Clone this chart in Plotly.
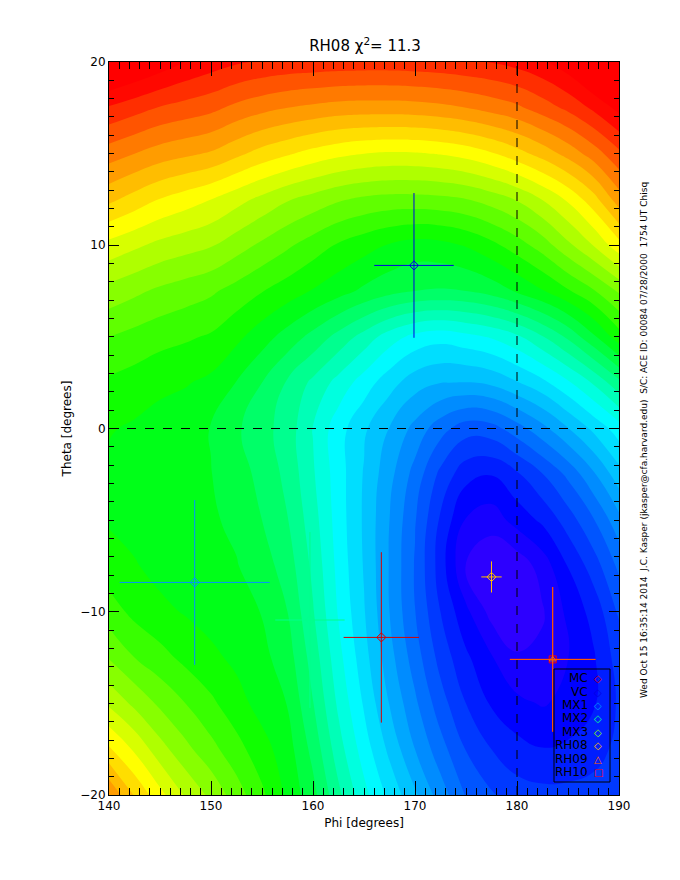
import plotly.graph_objects as go

# ---------------- chi-square surface: colour level (0 = minimum, 1 = red) read on a 2.5 deg grid ----------------
phi_grid = [140, 142.5, 145, 147.5, 150, 152.5, 155, 157.5, 160, 162.5, 165,
            167.5, 170, 172.5, 175, 177.5, 180, 182.5, 185, 187.5, 190]
theta_grid = [-20, -17.5, -15, -12.5, -10, -7.5, -5, -2.5, 0, 2.5, 5, 7.5, 10, 12.5, 15, 17.5, 20]

row_m20 = [0.873, 0.81, 0.76, 0.715, 0.68, 0.64, 0.60, 0.555, 0.51, 0.445, 0.385, 0.335, 0.287, 0.235, 0.185, 0.16, 0.14, 0.135, 0.135, 0.14, 0.15]
row_m17 = [0.786, 0.745, 0.70, 0.665, 0.635, 0.605, 0.575, 0.545, 0.49, 0.42, 0.36, 0.305, 0.25, 0.20, 0.155, 0.125, 0.105, 0.095, 0.10, 0.11, 0.135]
row_m15 = [0.713, 0.68, 0.65, 0.625, 0.60, 0.575, 0.55, 0.53, 0.47, 0.40, 0.34, 0.28, 0.225, 0.17, 0.125, 0.09, 0.07, 0.06, 0.07, 0.09, 0.13]
row_m12 = [0.654, 0.625, 0.605, 0.585, 0.57, 0.555, 0.54, 0.515, 0.455, 0.385, 0.325, 0.262, 0.203, 0.145, 0.10, 0.065, 0.035, 0.038, 0.062, 0.09, 0.14]
row_m10 = [0.609, 0.585, 0.57, 0.56, 0.55, 0.542, 0.53, 0.50, 0.44, 0.372, 0.315, 0.25, 0.188, 0.125, 0.07, 0.02, 0.005, 0.028, 0.07, 0.105, 0.16]
row_m7 = [0.577, 0.565, 0.553, 0.548, 0.54, 0.533, 0.515, 0.485, 0.43, 0.365, 0.31, 0.248, 0.185, 0.11, 0.03, 0.005, 0.01, 0.045, 0.095, 0.14, 0.195]
row_m5 = [0.559, 0.552, 0.545, 0.54, 0.535, 0.525, 0.50, 0.47, 0.42, 0.36, 0.308, 0.25, 0.19, 0.12, 0.06, 0.045, 0.075, 0.10, 0.14, 0.185, 0.24]
row_m2 = [0.555, 0.55, 0.545, 0.54, 0.532, 0.515, 0.49, 0.46, 0.41, 0.358, 0.31, 0.26, 0.207, 0.148, 0.105, 0.095, 0.12, 0.155, 0.195, 0.245, 0.30]
row_0 = [0.565, 0.558, 0.55, 0.542, 0.53, 0.505, 0.48, 0.455, 0.405, 0.357, 0.318, 0.28, 0.24, 0.20, 0.17, 0.175, 0.205, 0.24, 0.28, 0.32, 0.36]
row_2 = [0.588, 0.58, 0.57, 0.565, 0.555, 0.53, 0.50, 0.465, 0.43, 0.395, 0.36, 0.325, 0.295, 0.282, 0.28, 0.288, 0.31, 0.335, 0.37, 0.41, 0.46]
row_5 = [0.625, 0.615, 0.605, 0.598, 0.59, 0.57, 0.545, 0.518, 0.49, 0.458, 0.425, 0.39, 0.365, 0.355, 0.365, 0.378, 0.40, 0.435, 0.475, 0.525, 0.58]
row_7 = [0.676, 0.663, 0.65, 0.64, 0.63, 0.613, 0.595, 0.578, 0.56, 0.543, 0.525, 0.51, 0.50, 0.497, 0.50, 0.513, 0.535, 0.56, 0.59, 0.622, 0.66]
row_10 = [0.74, 0.725, 0.71, 0.70, 0.69, 0.67, 0.65, 0.63, 0.61, 0.59, 0.575, 0.56, 0.55, 0.553, 0.565, 0.585, 0.61, 0.64, 0.68, 0.72, 0.77]
row_12 = [0.82, 0.80, 0.78, 0.765, 0.75, 0.73, 0.71, 0.69, 0.675, 0.66, 0.65, 0.645, 0.645, 0.648, 0.655, 0.67, 0.69, 0.72, 0.755, 0.80, 0.86]
row_15 = [0.89, 0.875, 0.86, 0.85, 0.84, 0.82, 0.80, 0.785, 0.77, 0.758, 0.75, 0.746, 0.747, 0.752, 0.762, 0.778, 0.80, 0.825, 0.855, 0.89, 0.93]
row_17 = [0.965, 0.95, 0.935, 0.925, 0.915, 0.898, 0.885, 0.875, 0.868, 0.862, 0.86, 0.86, 0.862, 0.867, 0.875, 0.887, 0.90, 0.922, 0.945, 0.975, 1.01]
row_20 = [1.06, 1.04, 1.02, 1.0, 0.985, 0.973, 0.965, 0.96, 0.958, 0.956, 0.955, 0.955, 0.957, 0.96, 0.965, 0.97, 0.98, 0.995, 1.02, 1.06, 1.10]
surface = [row_m20, row_m17, row_m15, row_m12, row_m10, row_m7, row_m5, row_m2,
           row_0, row_2, row_5, row_7, row_10, row_12, row_15, row_17, row_20]

# ---------------- shock-normal estimates ----------------
names = ["MC", "VC", "MX1", "MX2", "MX3", "RH08", "RH09", "RH10"]
phi_vals = [166.7, 169.9, 148.4, 159.7, None, 177.5, 183.5, 183.5]
theta_vals = [-11.4, 8.9, -8.4, -10.45, None, -8.1, -12.6, -12.6]
phi_errs = [3.7, 3.9, 7.35, 3.4, None, 1.0, 4.2, 4.2]
theta_errs = [4.65, 3.95, 4.5, 4.8, None, 0.85, 3.95, 3.95]
colors = ["rgb(215,0,0)", "rgb(0,0,225)", "rgb(0,150,255)", "rgb(0,255,140)",
          "rgb(140,255,0)", "rgb(255,190,0)", "rgb(255,100,0)", "rgb(255,0,0)"]
symbols = ["diamond-open", "diamond-open", "diamond-open", "diamond-open",
           "diamond-open", "diamond-open", "triangle-up-open", "square-open"]
legend_glyphs = ["◇", "◇", "◇", "◇", "◇", "◇", "△", "□"]

x_ticks = [140, 150, 160, 170, 180, 190]
y_ticks = [-20, -10, 0, 10, 20]

colorscale = [
    [0.0, "rgb(45,0,255)"],
    [0.06, "rgb(0,0,255)"],
    [0.35, "rgb(0,255,255)"],
    [0.55, "rgb(0,255,0)"],
    [0.75, "rgb(255,255,0)"],
    [0.87, "rgb(255,128,0)"],
    [0.975, "rgb(255,0,0)"],
    [1.0, "rgb(255,0,0)"],
]

fig = go.Figure()
fig.add_trace(go.Contour(
    x=phi_grid, y=theta_grid, z=surface,
    colorscale=colorscale, showscale=False, hoverinfo="skip",
    contours=dict(coloring="fill", showlines=False, start=1 / 32, end=1.0, size=1 / 32),
    line=dict(width=0, smoothing=1.3),
))

order = [0, 1, 2, 3, 5, 7, 6]
for i in order:
    if phi_vals[i] is None:
        continue
    fig.add_trace(go.Scatter(
        x=[phi_vals[i]], y=[theta_vals[i]], mode="markers",
        marker=dict(symbol=symbols[i], size=7 if i != 6 else 6, color=colors[i],
                    line=dict(width=1, color=colors[i])),
        error_x=dict(type="data", array=[phi_errs[i]], width=0, thickness=1, color=colors[i]),
        error_y=dict(type="data", array=[theta_errs[i]], width=0, thickness=1, color=colors[i]),
        showlegend=False, hoverinfo="skip",
    ))

# pixel -> paper helpers for the plot frame (109..619 x 62..795)
L, R, T, B = 109, 619, 62, 795
def px(x):
    return (x - L) / (R - L)
def py(y):
    return (B - y) / (B - T)

# custom IDL-style legend: label on the left, symbol on the right
legend_y_px = [678, 692, 705, 718, 732, 745, 759, 772]
for nm, gl, col, yy in zip(names, legend_glyphs, colors, legend_y_px):
    fig.add_annotation(x=px(590), y=py(yy), xref="paper", yref="paper", text=nm,
                       showarrow=False, xanchor="right", yanchor="middle",
                       font=dict(family="DejaVu Sans", size=12, color="black"))
    fig.add_annotation(x=px(598), y=py(yy), xref="paper", yref="paper", text=gl,
                       showarrow=False, xanchor="center", yanchor="middle",
                       font=dict(family="DejaVu Sans", size=10, color=col))
fig.add_shape(type="rect", xref="paper", yref="paper", x0=px(554), x1=px(610),
              y0=py(782), y1=py(669), line=dict(color="black", width=1))

# dashed reference lines
fig.add_shape(type="line", x0=180, x1=180, y0=-20, y1=20, xref="x", yref="y",
              line=dict(color="black", width=1, dash="dash"))
fig.add_shape(type="line", x0=140, x1=190, y0=0, y1=0, xref="x", yref="y",
              line=dict(color="black", width=1, dash="dash"))

fig.add_annotation(
    x=px(651), y=py(440), xref="paper", yref="paper", showarrow=False, textangle=-90,
    text="Wed Oct 15 16:35:14 2014  J.C. Kasper (jkasper@cfa.harvard.edu)  S/C: ACE ID: 00084 07/28/2000  1754 UT Chisq",
    font=dict(family="DejaVu Sans", size=9, color="black"),
)

font = dict(family="DejaVu Sans", size=12, color="black")
fig.update_layout(
    width=680, height=880, paper_bgcolor="white", plot_bgcolor="white",
    margin=dict(l=L, r=680 - R, t=T, b=880 - B),
    title=dict(text="RH08 χ<sup>2</sup>= 11.3", x=365 / 680, xanchor="center",
               y=1 - 46 / 880, yanchor="middle",
               font=dict(family="DejaVu Sans", size=15, color="black")),
    font=font,
    xaxis=dict(range=[140, 190], tickvals=x_ticks, ticks="inside", ticklen=14,
               tickcolor="black", mirror="ticks", showline=True, linecolor="black",
               linewidth=1, showgrid=False, zeroline=False, automargin=False,
               minor=dict(dtick=1, ticks="inside", ticklen=7, tickcolor="black", showgrid=False),
               title=dict(text="Phi [degrees]", font=font, standoff=6), tickfont=font),
    yaxis=dict(range=[-20, 20], tickvals=y_ticks, ticks="inside", ticklen=10,
               tickcolor="black", mirror="ticks", showline=True, linecolor="black",
               linewidth=1, showgrid=False, zeroline=False, automargin=False,
               minor=dict(dtick=1, ticks="inside", ticklen=5, tickcolor="black", showgrid=False),
               title=dict(text="Theta [degrees]", font=font, standoff=6), tickfont=font),
)

fig.write_html("out.html", config={"displayModeBar": False},
               post_script="document.body.style.margin='0px';")
